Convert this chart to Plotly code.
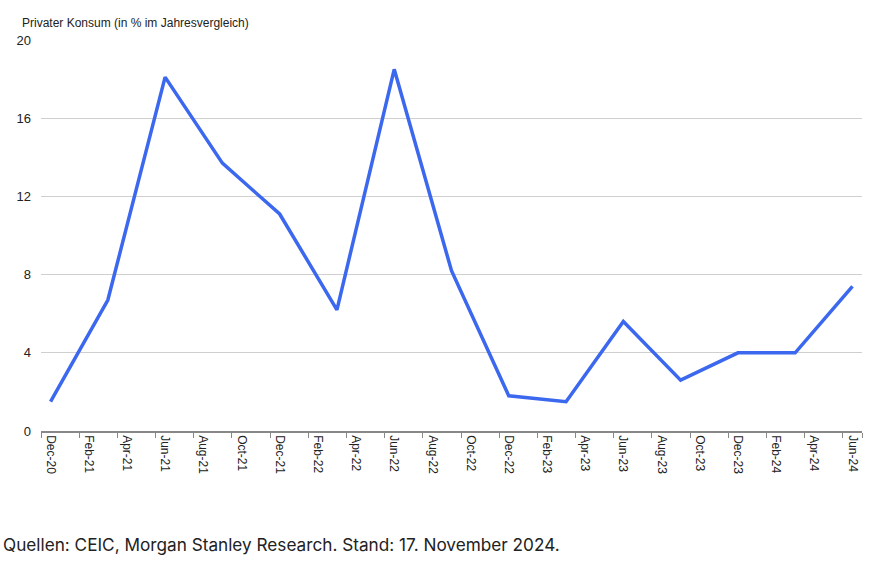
import plotly.graph_objects as go

months = ["Dec-20","Jan-21","Feb-21","Mar-21","Apr-21","May-21","Jun-21","Jul-21","Aug-21","Sep-21","Oct-21","Nov-21",
          "Dec-21","Jan-22","Feb-22","Mar-22","Apr-22","May-22","Jun-22","Jul-22","Aug-22","Sep-22","Oct-22","Nov-22",
          "Dec-22","Jan-23","Feb-23","Mar-23","Apr-23","May-23","Jun-23","Jul-23","Aug-23","Sep-23","Oct-23","Nov-23",
          "Dec-23","Jan-24","Feb-24","Mar-24","Apr-24","May-24","Jun-24"]
quarters = ["Dec-20","Mar-21","Jun-21","Sep-21","Dec-21","Mar-22","Jun-22","Sep-22",
            "Dec-22","Mar-23","Jun-23","Sep-23","Dec-23","Mar-24","Jun-24"]
values = [1.5, 6.7, 18.1, 13.7, 11.1, 6.2, 18.5, 8.2, 1.8, 1.5, 5.6, 2.6, 4.0, 4.0, 7.4]
y_ticks = [0, 4, 8, 12, 16, 20]

fig = go.Figure()
fig.add_trace(go.Scatter(x=quarters, y=values, mode="lines",
                         line=dict(color="#3b68ee", width=3.5), hoverinfo="skip"))

narrow = "Liberation Sans, Arial, sans-serif"
fig.update_layout(
    width=880, height=564,
    margin=dict(l=41, r=18, t=40, b=133),
    paper_bgcolor="white", plot_bgcolor="white",
    showlegend=False,
    xaxis=dict(type="category", categoryorder="array", categoryarray=months,
               range=[-0.5, len(months) - 0.5], automargin=False,
               tickmode="array", tickvals=months[::2], ticktext=months[::2],
               tickson="boundaries", ticks="outside", ticklen=5, tickcolor="#888888",
               tickangle=90, tickfont=dict(family=narrow, size=12, color="#222222"),
               showgrid=False, showline=True, linecolor="#888888", linewidth=1.5,
               zeroline=False),
    yaxis=dict(range=[0, 20], tickvals=y_ticks, ticks="", ticklabelstandoff=9,
               automargin=False,
               tickfont=dict(family=narrow, size=13, color="#222222"),
               showgrid=True, gridcolor="#cfcfcf", gridwidth=1,
               zeroline=False, showline=False),
    annotations=[
        dict(text="Privater Konsum (in % im Jahresvergleich)", xref="paper", yref="paper",
             x=-0.026, y=1.0, yshift=8, xanchor="left", yanchor="bottom", showarrow=False,
             font=dict(family=narrow, size=12, color="#222222")),
        dict(text="Quellen: CEIC, Morgan Stanley Research. Stand: 17. November 2024.",
             xref="paper", yref="paper", x=-0.049, y=0, yshift=-101,
             xanchor="left", yanchor="top", showarrow=False,
             font=dict(family="Inter, Roboto, sans-serif", size=17.2, color="#222222")),
    ],
)
fig.write_html("out.html", config={"displayModeBar": False},
               post_script="document.body.style.margin='0';")
